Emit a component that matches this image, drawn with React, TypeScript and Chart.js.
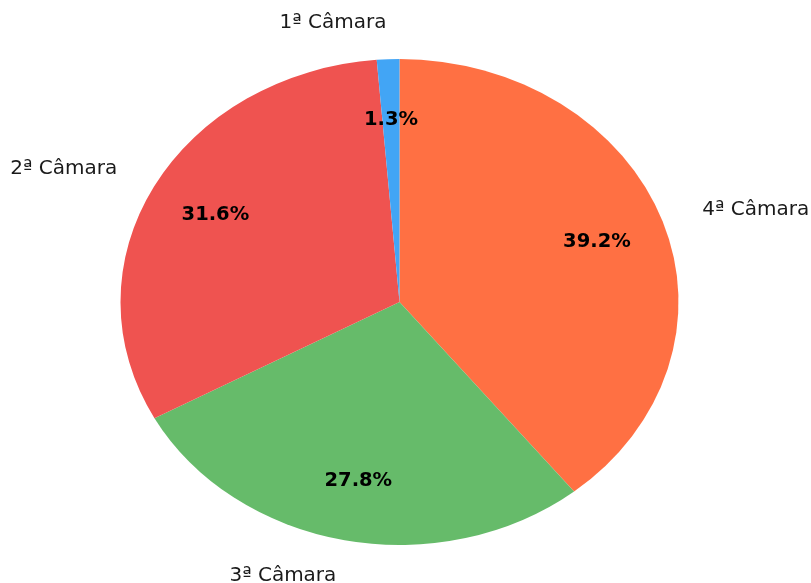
import React, { useEffect, useRef } from "react";
import { Chart, registerables } from "chart.js";

Chart.register(...registerables);

const categories = ["1ª Câmara", "2ª Câmara", "3ª Câmara", "4ª Câmara"];
const values = [1.3, 31.6, 27.8, 39.2];
const colors = ["#42A5F5", "#EF5350", "#66BB6A", "#FF7043"];

const RX = 279;
const RY = 243;
const FONT = "'DejaVu Sans', sans-serif";

export default function App() {
  const ref = useRef<HTMLCanvasElement | null>(null);

  useEffect(() => {
    if (!ref.current) return;
    // matplotlib draws counter-clockwise from the top; Chart.js goes clockwise
    const labels = [...categories].reverse();
    const data = [...values].reverse();
    const bg = [...colors].reverse();
    const total = values.reduce((a, b) => a + b, 0);
    const sy = RY / RX;

    const squash = {
      id: "squash",
      beforeDatasetsDraw(chart: any) {
        const arc = chart.getDatasetMeta(0).data[0];
        const { x, y } = arc;
        const ctx = chart.ctx;
        ctx.save();
        ctx.translate(x, y);
        ctx.scale(1, sy);
        ctx.translate(-x, -y);
      },
      afterDatasetsDraw(chart: any) {
        chart.ctx.restore();
      },
      afterDraw(chart: any) {
        const ctx = chart.ctx;
        const meta = chart.getDatasetMeta(0);
        meta.data.forEach((arc: any, i: number) => {
          const { x, y, startAngle, endAngle, outerRadius } = arc.getProps(
            ["x", "y", "startAngle", "endAngle", "outerRadius"],
            true
          );
          const a = (startAngle + endAngle) / 2;
          const c = Math.cos(a);
          const s = Math.sin(a);
          const rx = outerRadius;
          const ry = outerRadius * sy;
          ctx.save();
          ctx.font = `20px ${FONT}`;
          ctx.fillStyle = "#1a1a1a";
          ctx.textBaseline = "middle";
          ctx.textAlign = c < 0 ? "right" : "left";
          ctx.fillText(labels[i], x + 1.15 * rx * c, y + 1.15 * ry * s);
          ctx.font = `bold 19.5px ${FONT}`;
          ctx.fillStyle = "#000";
          ctx.textAlign = "center";
          const pct = ((data[i] / total) * 100).toFixed(1) + "%";
          ctx.fillText(pct, x + 0.75 * rx * c, y + 0.75 * ry * s);
          ctx.restore();
        });
      },
    };

    const chart = new Chart(ref.current, {
      type: "pie",
      data: {
        labels,
        datasets: [
          {
            data,
            backgroundColor: bg,
            borderWidth: 0,
            radius: RX,
          } as any,
        ],
      },
      options: {
        responsive: false,
        animation: false,
        rotation: 0,
        layout: { padding: { left: 120, right: 132, top: 22, bottom: 1 } },
        plugins: {
          legend: { display: false },
          tooltip: { enabled: false },
        },
      },
      plugins: [squash],
    });
    return () => chart.destroy();
  }, []);

  return (
    <div style={{ position: "fixed", left: 0, top: 0, width: 811, height: 583, background: "#fff" }}>
      <canvas ref={ref} width={811} height={583} style={{ display: "block" }} />
    </div>
  );
}
